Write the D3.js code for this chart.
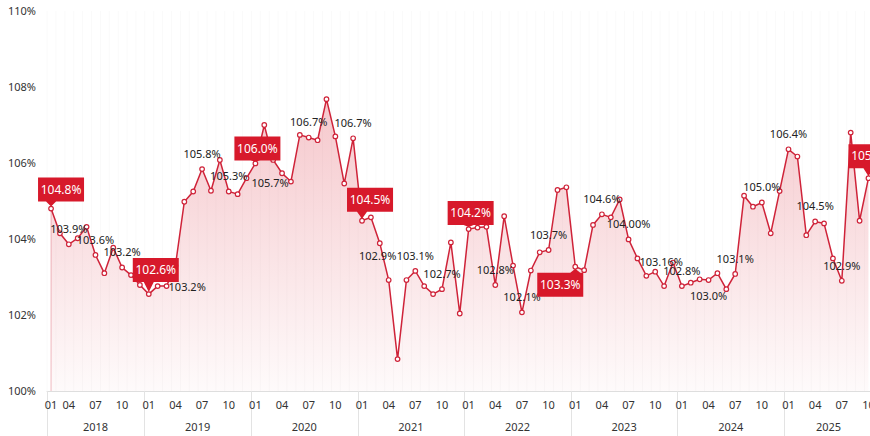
<!DOCTYPE html>
<html>
<head>
<meta charset="utf-8">
<script src="https://cdn.jsdelivr.net/npm/d3@7"></script>
<style>
  body { margin: 0; background: #fff; }
  svg { display: block; font-family: "Noto Sans", sans-serif; }
</style>
</head>
<body>
<div id="chart"></div>
<script>
// ---- data ----
const years = ["2018", "2019", "2020", "2021", "2022", "2023", "2024", "2025"]
const firstMonth = 2   // series starts 2018-02
const lastMonth = 10   // series ends 2025-10
const monthTicks = ["01", "04", "07", "10"]
const yTicks = [100, 102, 104, 106, 108, 110]

const values = [
  104.8, 104.15, 103.86, 104.02, 104.32, 103.58, 103.1, 103.77, 103.25, 103.05, 102.79,
  102.55, 102.76, 102.76, 103.3, 104.98, 105.25, 105.84, 105.27, 106.08, 105.25, 105.18, 105.6,
  105.99, 107.0, 106.08, 105.73, 105.51, 106.74, 106.67, 106.6, 107.68, 106.7, 105.46, 106.65,
  104.48, 104.57, 103.89, 102.92, 100.84, 102.92, 103.16, 102.76, 102.55, 102.68, 103.91, 102.04,
  104.26, 104.3, 104.32, 102.79, 104.6, 103.3, 102.07, 103.17, 103.65, 103.71, 105.29, 105.36,
  103.27, 103.18, 104.37, 104.65, 104.57, 105.04, 103.99, 103.49, 103.03, 103.14, 102.76, 103.38,
  102.76, 102.85, 102.94, 102.92, 103.1, 102.68, 103.08, 105.14, 104.85, 104.96, 104.15, 105.26,
  106.36, 106.17, 104.1, 104.46, 104.41, 103.49, 102.9, 106.8, 104.48, 105.6
]

// plain value labels (index into values, text)
const noteIdx  = [2, 5, 8, 13, 17, 20, 26, 29, 34, 38, 41, 44, 50, 53, 56, 62, 65, 68, 71, 74, 77, 80, 83, 86, 89]
const noteText = ["103.9%", "103.6%", "103.2%", "103.2%", "105.8%", "105.3%", "105.7%", "106.7%", "106.7%",
  "102.9%", "103.1%", "102.7%", "102.8%", "102.1%", "103.7%", "104.6%", "104.00%", "103.16%", "102.8%",
  "103.0%", "103.1%", "105.0%", "106.4%", "104.5%", "102.9%"]

// red callout boxes
const calloutIdx  = [0, 11, 23, 35, 47, 59, 92]
const calloutText = ["104.8%", "102.6%", "106.0%", "104.5%", "104.2%", "103.3%", "105.6%"]

// ---- placement of the annotations (pixels) ----
const notePlace = { 13: [2, 1, "start"], 26: [-12, 10], 38: [-11, -24], 68: [6, -10], 74: [0, 16] }
const calloutPlace = [[-13, 7, "up"], [-16, 12, "up"], [-21, 3, "up"], [-15, 9, "up"],
                      [-21, 4, "up"], [-38, 6, "down"], [-20, 10, "up"]]

const W = 870, H = 436
const RED = "#cf2339", BOX = "#d7192b"

const categories = []
years.forEach(yr => {
  for (let m = 1; m <= 12; m++) {
    if (yr === years[0] && m < firstMonth) continue
    if (yr === years[years.length - 1] && m > lastMonth) continue
    categories.push(yr + "-" + String(m).padStart(2, "0"))
  }
})

const svg = d3.select("#chart").append("svg")
    .attr("width", W)
    .attr("height", H)

const x = d3.scaleBand().domain(categories).range([46.6, 46.6 + categories.length * 8.885])
const y = d3.scaleLinear().domain([100, 110]).range([391, 11])
const cx = i => x(categories[i]) + x.bandwidth() / 2

// gradient for area
const grad = svg.append("defs").append("linearGradient")
    .attr("id", "areaFill")
    .attr("gradientUnits", "userSpaceOnUse")
    .attr("x1", 0).attr("x2", 0)
    .attr("y1", y(d3.max(values))).attr("y2", y(100))
grad.append("stop").attr("offset", 0).attr("stop-color", BOX).attr("stop-opacity", 0.24)
grad.append("stop").attr("offset", 1).attr("stop-color", BOX).attr("stop-opacity", 0.02)

// faint vertical grid
svg.append("g").selectAll("line")
  .data(categories)
  .join("line")
    .attr("x1", d => x(d) + 0.5).attr("x2", d => x(d) + 0.5)
    .attr("y1", y(110)).attr("y2", y(100))
    .attr("stroke", "#fafafa")

// y labels
svg.append("g").selectAll("text")
  .data(yTicks)
  .join("text")
    .attr("x", 36)
    .attr("y", d => y(d))
    .attr("dy", "0.35em")
    .attr("text-anchor", "end")
    .attr("font-size", 11)
    .attr("fill", "#333")
    .text(d => d + "%")

// area + line
svg.append("path")
    .datum(values)
    .attr("fill", "url(#areaFill)")
    .attr("d", d3.area().x((d, i) => cx(i)).y0(y(100)).y1(d => y(d)))

svg.append("line")
    .attr("x1", cx(0)).attr("x2", cx(0))
    .attr("y1", y(values[0])).attr("y2", y(100))
    .attr("stroke", RED).attr("stroke-opacity", 0.3)

svg.append("path")
    .datum(values)
    .attr("fill", "none")
    .attr("stroke", RED)
    .attr("stroke-width", 1.5)
    .attr("d", d3.line().x((d, i) => cx(i)).y(d => y(d)))

svg.append("g").selectAll("circle")
  .data(values)
  .join("circle")
    .attr("cx", (d, i) => cx(i))
    .attr("cy", d => y(d))
    .attr("r", 2.3)
    .attr("fill", "#fff")
    .attr("stroke", RED)
    .attr("stroke-width", 1.2)

// x axis
const xa = svg.append("g")
xa.append("line")
    .attr("x1", x.range()[0]).attr("x2", W)
    .attr("y1", 391.5).attr("y2", 391.5)
    .attr("stroke", "#dedede")

const yearStarts = years.map(yr => categories.findIndex(c => c.startsWith(yr)))
const yearEnds = years.map(yr => categories.length - 1 - [...categories].reverse().findIndex(c => c.startsWith(yr)))

xa.selectAll("line.sep")
  .data(yearStarts)
  .join("line")
    .attr("class", "sep")
    .attr("x1", i => Math.round(x(categories[i])) + 0.5)
    .attr("x2", i => Math.round(x(categories[i])) + 0.5)
    .attr("y1", 391).attr("y2", H)
    .attr("stroke", "#e3e3e3")

const tickIdx = categories.map((c, i) => i)
    .filter(i => i === 0 || monthTicks.includes(categories[i].slice(5)))

xa.selectAll("text.m")
  .data(tickIdx)
  .join("text")
    .attr("class", "m")
    .attr("x", i => cx(i))
    .attr("y", 405)
    .attr("dy", "0.35em")
    .attr("text-anchor", "middle")
    .attr("font-size", 11)
    .attr("fill", "#333")
    .text(i => i === 0 ? monthTicks[0] : categories[i].slice(5))

xa.selectAll("text.y")
  .data(years)
  .join("text")
    .attr("class", "y")
    .attr("x", (d, k) => (x(categories[yearStarts[k]]) + x(categories[yearEnds[k]]) + x.bandwidth()) / 2)
    .attr("y", 427)
    .attr("dy", "0.35em")
    .attr("text-anchor", "middle")
    .attr("font-size", 11)
    .attr("fill", "#333")
    .text(d => d)

// value labels
svg.append("g").selectAll("text")
  .data(noteIdx)
  .join("text")
    .attr("x", d => cx(d) + (notePlace[d] ? notePlace[d][0] : 0))
    .attr("y", d => y(values[d]) + (notePlace[d] ? notePlace[d][1] : -15))
    .attr("dy", "0.35em")
    .attr("text-anchor", d => notePlace[d] && notePlace[d][2] ? notePlace[d][2] : "middle")
    .attr("font-size", 11)
    .attr("fill", "#222")
    .text((d, k) => noteText[k])

// callouts
const bw = 46, bh = 24
const co = svg.append("g").selectAll("g")
  .data(calloutIdx)
  .join("g")

co.append("path")
    .attr("fill", BOX)
    .attr("d", (d, k) => {
      const [dx, gap, side] = calloutPlace[k]
      const px = cx(d), py = y(values[d])
      const L = px + dx
      const b1 = Math.max(L + 3, px - 5), b2 = Math.min(L + bw - 3, px + 5)
      if (side === "up") {
        const B = py - gap, T = B - bh
        return `M${L},${T}H${L + bw}V${B}H${b2}L${px},${py - 2}L${b1},${B}H${L}Z`
      }
      const T = py + gap, B = T + bh
      return `M${L},${T}H${b1}L${px},${py + 2}L${b2},${T}H${L + bw}V${B}H${L}Z`
    })

co.append("text")
    .attr("x", (d, k) => cx(d) + calloutPlace[k][0] + bw / 2)
    .attr("y", (d, k) => {
      const [dx, gap, side] = calloutPlace[k]
      const py = y(values[d])
      return side === "up" ? py - gap - bh / 2 : py + gap + bh / 2
    })
    .attr("dy", "0.35em")
    .attr("text-anchor", "middle")
    .attr("font-size", 12)
    .attr("fill", "#fff")
    .text((d, k) => calloutText[k])
</script>
</body>
</html>
